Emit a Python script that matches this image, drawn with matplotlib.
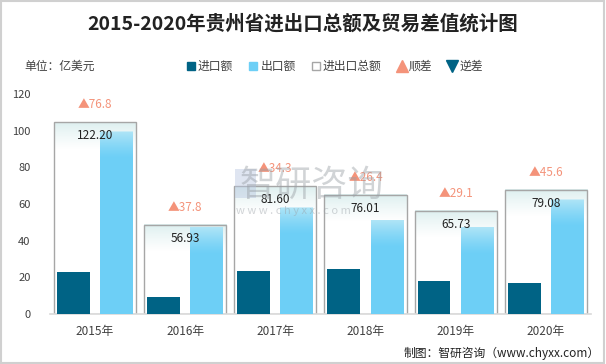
import numpy as np
import matplotlib
matplotlib.use("Agg")
import matplotlib.pyplot as plt
from matplotlib.patches import Rectangle
from matplotlib.lines import Line2D

plt.rcParams['font.family'] = ['Noto Sans CJK SC', 'DejaVu Sans']

# data (亿美元)
years = ['2015年', '2016年', '2017年', '2018年', '2019年', '2020年']
imports = [22.70, 9.57, 23.65, 24.81, 18.32, 16.74]
exports = [99.50, 47.37, 57.95, 51.20, 47.41, 62.34]
totals = [122.20, 56.93, 81.60, 76.01, 65.73, 79.08]
diffs = [76.8, 37.8, 34.3, 26.4, 29.1, 45.6]

c_imp = '#006385'
c_exp = '#6DCFF6'
c_tri = '#F4937A'
c_text = '#404040'

fig = plt.figure(figsize=(6.06, 3.64), dpi=100)
ax = fig.add_axes([0.0825, 0.137, 0.8925, 0.605])
ax2 = ax.twinx()
ax.set_zorder(ax2.get_zorder() + 1)
ax.patch.set_visible(False)

x = np.arange(len(years))
w = 0.366

# total boxes on hidden secondary scale (0-140)
boxes = ax2.bar(x, totals, width=0.91, facecolor='white', edgecolor='none', zorder=1)
ax2.bar(x, totals, width=0.91, fill=False, edgecolor='#a6a6a6', linewidth=1.0, zorder=2)
ax2.set_ylim(0, 140)
ax2.set_xlim(-0.5, len(years) - 0.5)
ax2.axis('off')
t = np.linspace(0, 1, 64)
for b in boxes:
    x0, bw, bh = b.get_x(), b.get_width(), b.get_height()
    grad = np.ones((64, 1, 3))
    grad[:, 0, 0] = 0.86 + 0.14 * t ** 0.8
    grad[:, 0, 1] = 0.935 + 0.065 * t ** 0.8
    grad[:, 0, 2] = 0.935 + 0.065 * t ** 0.8
    ax2.imshow(grad, extent=[x0, x0 + bw, bh - 17, bh], aspect='auto',
               origin='upper', zorder=1.5, interpolation='bilinear')

ax.bar(x - 0.24, imports, width=w, color=c_imp, zorder=3)
eb = ax.bar(x + 0.24, exports, width=w, color=c_exp, zorder=3)
for b in eb:
    x0, top = b.get_x(), b.get_height()
    grad = np.zeros((64, 1, 4))
    grad[:, 0, 0] = 0.76
    grad[:, 0, 1] = 0.92
    grad[:, 0, 2] = 0.97
    grad[:, 0, 3] = 0.8 * (1 - t) ** 1.3
    ax.imshow(grad, extent=[x0, x0 + b.get_width(), top - 15, top], aspect='auto',
              origin='upper', zorder=3.5, interpolation='bilinear')

# labels placed on the secondary scale, drawn above the bars
for xi, tv, dv in zip(x, totals, diffs):
    ax.text(xi, tv - 4.5, f'{tv:.2f}', ha='center', va='top', fontsize=8.5, color='#222222',
            zorder=5, transform=ax2.transData)
    ax.text(xi, tv + 11, '▲' + f'{dv}', ha='center', va='center', fontsize=8.5, color=c_tri,
            zorder=5, transform=ax2.transData)

ax.set_xlim(-0.5, len(years) - 0.5)
ax.set_ylim(0, 120)
ax.set_yticks(range(0, 121, 20))
ax.set_xticks(x)
ax.set_xticklabels(years)
ax.tick_params(axis='y', length=0, labelsize=8, labelcolor=c_text, pad=14)
ax.tick_params(axis='x', length=0, labelsize=8.5, labelcolor=c_text, pad=8)
for s in ['top', 'right', 'left']:
    ax.spines[s].set_visible(False)
ax.spines['bottom'].set_color('#d9d9d9')
ax.spines['bottom'].set_linewidth(1.2)

# title and unit
fig.text(0.5, 0.935, '2015-2020年贵州省进出口总额及贸易差值统计图', ha='center', va='center',
         fontsize=14, fontweight='bold', color='#222222')
fig.text(0.041, 0.818, '单位：亿美元', ha='left', va='center', fontsize=8.5, color=c_text)

# legend
handles = [
    Line2D([], [], marker='s', linestyle='none', markersize=6, markerfacecolor=c_imp, markeredgecolor=c_imp),
    Line2D([], [], marker='s', linestyle='none', markersize=6, markerfacecolor=c_exp, markeredgecolor=c_exp),
    Line2D([], [], marker='s', linestyle='none', markersize=6, markerfacecolor='white', markeredgecolor='#a6a6a6'),
    Line2D([], [], marker='^', linestyle='none', markersize=8, markerfacecolor=c_tri, markeredgecolor=c_tri),
    Line2D([], [], marker='v', linestyle='none', markersize=8, markerfacecolor=c_imp, markeredgecolor=c_imp),
]
labels = ['进口额', '出口额', '进出口总额', '顺差', '逆差']
fig.legend(handles, labels, loc='center', bbox_to_anchor=(0.553, 0.818), ncol=5, frameon=False,
           fontsize=8.5, handlelength=0.6, handletextpad=0.3, columnspacing=1.4, labelcolor=c_text)

# watermark
fig.text(0.515, 0.49, '智研咨询', ha='center', va='center', fontsize=26, color='#9aa0a6', alpha=0.45, zorder=10)
fig.text(0.485, 0.42, 'w w w . c h y x x . c o m', ha='center', va='center', fontsize=8, color='#9aa0a6', alpha=0.45, zorder=10)
fig.patches.append(Rectangle((0.388, 0.455), 0.035, 0.08, transform=fig.transFigure,
                             facecolor='#b8c6e0', edgecolor='none', alpha=0.45, zorder=10))

fig.text(0.99, 0.028, '制图：智研咨询（www.chyxx.com）', ha='right', va='center', fontsize=8.5, color='#222222')

fig.patches.append(Rectangle((0.002, 0.002), 0.994, 0.994, transform=fig.transFigure,
                             fill=False, edgecolor='#d0d0d0', linewidth=1.5))

fig.savefig('out.png', dpi=100)
